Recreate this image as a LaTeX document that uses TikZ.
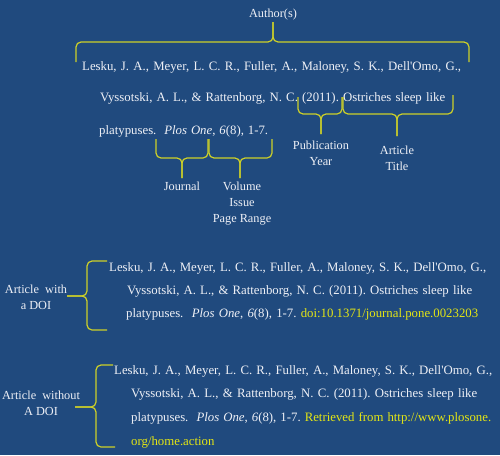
\documentclass[tikz,border=0pt]{standalone}
\usepackage{fontspec}
\setmainfont{Liberation Serif}
\frenchspacing
\definecolor{bg}{RGB}{32,74,126}
\definecolor{txt}{RGB}{238,240,246}
\definecolor{brc}{RGB}{205,208,40}
\definecolor{doi}{RGB}{228,230,20}
\newcommand{\apos}{\textquotesingle}
\begin{document}
\begin{tikzpicture}[x=1pt,y=-1pt,
  cite/.style={anchor=base west, inner sep=0pt, text=txt, font=\fontsize{12.8}{14}\selectfont},
  lbl/.style={anchor=north, inner sep=0pt, text=txt, align=center, font=\fontsize{12.3}{16}\selectfont},
  bracepath/.style={draw=brc, line width=1.2pt, rounded corners=5pt}]
\useasboundingbox (0,0) rectangle (500,455);
\fill[bg] (0,0) rectangle (500,455);

% ---- annotated reference ----
\node[lbl] (author) at (273,8.7) {Author(s)};
\node[cite] (a1) at (82,70) {\makebox[379pt][s]{Lesku, J. A., Meyer, L. C. R., Fuller, A., Maloney, S. K., Dell\apos Omo, G.,}};
\node[cite] (a2) at (100,101) {\makebox[345pt][s]{Vyssotski, A. L., \& Rattenborg, N. C. (2011). Ostriches sleep like}};
\node[cite] (a3) at (99,134) {\makebox[169pt][s]{platypuses.\ \ \textit{Plos One}, \textit{6}(8), 1-7.}};
\node[lbl] (pub) at (321,140.7) {Publication\\Year};
\node[lbl] (title) at (397,145.8) {Article\\Title};
\node[lbl] (journal) at (182,181.8) {Journal};
\node[lbl] (vol) at (242,181.8) {Volume\\Issue\\Page Range};

\draw[bracepath] (76,62) -- (76,42) -- (273,42) -- (273,22);
\draw[bracepath] (469,62) -- (469,42) -- (273,42) -- (273,22);
\draw[bracepath] (298,97) -- (298,114) -- (321,114) -- (321,134);
\draw[bracepath] (342,97) -- (342,114) -- (321,114) -- (321,134);
\draw[bracepath] (343,97) -- (343,114) -- (397,114) -- (397,136);
\draw[bracepath] (453,95) -- (453,114) -- (397,114) -- (397,136);
\draw[bracepath] (156,139) -- (156,158) -- (182,158) -- (182,178);
\draw[bracepath] (208,139) -- (208,158) -- (182,158) -- (182,178);
\draw[bracepath] (209,139) -- (209,158) -- (240,158) -- (240,178);
\draw[bracepath] (272,139) -- (272,158) -- (240,158) -- (240,178);

% ---- article with a DOI ----
\node[lbl] (withdoi) at (36,284.8) {Article\ \ with\\a DOI};
\node[cite] (b1) at (109,271) {\makebox[377pt][s]{Lesku, J. A., Meyer, L. C. R., Fuller, A., Maloney, S. K., Dell\apos Omo, G.,}};
\node[cite] (b2) at (127,294) {\makebox[345pt][s]{Vyssotski, A. L., \& Rattenborg, N. C. (2011). Ostriches sleep like}};
\node[cite] (b3) at (126,317) {\makebox[352pt][s]{platypuses.\ \ \textit{Plos One}, \textit{6}(8), 1-7. {\color{doi}doi:10.1371/journal.pone.0023203}}};
\draw[bracepath] (107,261) -- (87,261) -- (87,296) -- (67,296);
\draw[bracepath] (107,330) -- (87,330) -- (87,296) -- (67,296);

% ---- article without a DOI ----
\node[lbl] (nodoi) at (41,390.8) {Article\ \ without\\A DOI};
\node[cite] (c1) at (114,374) {\makebox[378pt][s]{Lesku, J. A., Meyer, L. C. R., Fuller, A., Maloney, S. K., Dell\apos Omo, G.,}};
\node[cite] (c2) at (131,397) {\makebox[346pt][s]{Vyssotski, A. L., \& Rattenborg, N. C. (2011). Ostriches sleep like}};
\node[cite] (c3) at (131,421) {\makebox[360pt][s]{platypuses.\ \ \textit{Plos One}, \textit{6}(8), 1-7. {\color{doi}Retrieved from http://www.plosone.}}};
\node[cite] (c4) at (131,445) {{\color{doi}org/home.action}};
\draw[bracepath] (113,365) -- (96,365) -- (96,407) -- (75,407);
\draw[bracepath] (115,447) -- (96,447) -- (96,407) -- (75,407);
\end{tikzpicture}
\end{document}
